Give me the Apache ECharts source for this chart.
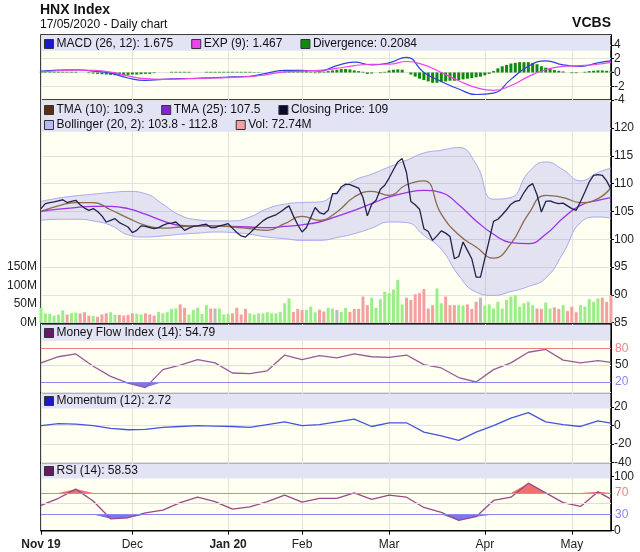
<!DOCTYPE html>
<html><head><meta charset="utf-8">
<script src="https://cdn.jsdelivr.net/npm/echarts@6/dist/echarts.min.js"></script>
<style>html,body{margin:0;padding:0;background:#fff}#c{width:640px;height:552px}</style>
</head><body><div id="c"></div>
<script>
// ---- categories: trading days Nov 2019 - 15 May 2020 ----
const holidays = ['2020-01-01','2020-01-23','2020-01-24','2020-01-27','2020-01-28','2020-01-29','2020-04-02','2020-04-30','2020-05-01'];
const dates = [];
for (let d = new Date(Date.UTC(2019,10,1)); d <= new Date(Date.UTC(2020,4,15)); d.setUTCDate(d.getUTCDate()+1)) {
  const w = d.getUTCDay(); const s = d.toISOString().slice(0,10);
  if (w !== 0 && w !== 6 && holidays.indexOf(s) < 0) dates.push(s);
}
const monthLabels = {'2019-11':'{b|Nov 19}','2019-12':'Dec','2020-01':'{b|Jan 20}','2020-02':'Feb','2020-03':'Mar','2020-04':'Apr','2020-05':'May'};

// ---- daily values ----
const closePrice = [105.5,106.4,106.6,106.7,106.9,107.1,106.6,106.8,107,106.2,105.6,105.2,105.5,105,104.2,103.1,103.4,103.7,103,102.6,
102.2,101.2,101.6,102.4,102.3,102.1,101.9,102.1,102.5,102.8,102.9,103.1,102.4,101.6,102,102.3,102.4,102.6,102.7,102.1,
102.1,102.4,102.6,102.8,102,101.2,100.6,100.4,101.1,101.9,102.6,103.3,103.8,104.1,104.4,104.9,105.5,106,104.2,102.6,
101.3,102.1,103.9,105.7,104.8,104.5,105.2,108.2,108.2,109.4,109.9,109.8,109.5,109.2,107.5,104.2,106.3,107,109,109.7,
111,112.5,113.9,114.5,112,106.8,106.2,105.4,101.9,101.4,99.8,100.6,101.5,101.1,100.5,96.5,96.9,99.5,98,96.5,
93.2,93.2,96.5,99.8,103.2,103.6,104.4,105.3,106.3,106.8,107,108.4,109.5,110,108,104.9,106.8,106.9,106.6,106.4,
106.5,106,105.5,105.2,106.8,108.5,110.3,111.5,111.6,111.5,110.5,109];
const volume = [40,25,24,19,22,33,22,25,27,25,28,19,18,16,22,25,28,21,21,19,21,25,24,22,25,22,19,29,25,28,
37,38,49,40,22,34,40,23,47,38,38,38,22,24,25,40,22,37,25,22,25,25,28,25,25,29,52,65,29,37,34,34,43,28,35,30,
40,38,34,29,40,29,37,37,70,47,67,40,63,83,79,89,115,49,67,61,76,79,90,38,47,92,52,70,47,47,
47,46,49,37,56,67,46,49,38,56,38,61,70,74,43,52,56,47,38,37,54,38,41,37,47,31,43,28,47,43,63,56,65,67,56,73];
const divergence = [0.1,0.1,0.1,0.1,0.1,0.1,0.1,0.1,0.1,0,0,-0.1,-0.15,-0.2,-0.25,-0.3,-0.35,-0.4,-0.4,-0.4,
-0.35,-0.3,-0.3,-0.25,-0.2,-0.2,-0.1,0,0,0,0.1,0.1,0.1,0.1,0.1,0,0,0,0.1,0.1,
0.1,0.1,0.1,0.1,0.1,0.1,0.1,0.1,0.1,0.05,0.05,0,0,0,0,0.1,0.15,0.2,0.3,0.35,
0.3,0.2,0.1,-0.1,-0.1,0.1,0.2,0.3,0.4,0.5,0.5,0.45,0.3,0.2,0.1,-0.2,-0.15,0,-0.1,0.1,
0.3,0.4,0.45,0.4,0,-0.3,-0.6,-0.9,-1.1,-1.3,-1.5,-1.5,-1.4,-1.3,-1.2,-1.2,-1.1,-1.0,-0.9,-0.8,
-0.7,-0.6,-0.4,-0.2,0.2,0.6,0.9,1.1,1.3,1.4,1.5,1.5,1.5,1.4,1.2,0.9,0.7,0.5,0.35,0.25,
0.15,0,-0.1,-0.1,0,0.1,0.2,0.25,0.3,0.3,0.25,0.21];

// ---- indicator lines read at sample days ----
const sIdx = [0,4,8,12,16,20,24,28,32,36,40,44,48,52,56,60,64,68,72,76,80,84,88,92,96,100,104,108,112,116,120,124,128,131];
const tma10 = [105,106,106.6,106.6,105.3,103.8,102.5,102,102.2,102.4,102.4,102.2,101.9,101.6,102.8,104.1,103.4,104.9,107.6,108.6,107.9,109.8,110.5,104.5,100.8,98.6,96.6,99.2,104.5,107.9,107.5,106.6,107.3,109.3];
const tma25 = [105,105.4,105.7,105.9,105.9,105.5,104.5,103.3,102.5,102.4,102.4,102.3,102.2,102.1,102.3,102.6,103.1,104.1,105.2,106.4,107.6,108.4,108.8,108.4,106.2,103.3,100.9,99.4,99.2,100.9,103.8,106.1,107,107.5];
const bollUpper = [106.8,107.4,107.8,108.1,108.4,108.6,108.2,106.3,104.3,103.5,103.3,103.3,104,105.5,106.3,106.6,106.7,108.5,110.6,111.7,113,114.2,115.5,116,116.5,113.5,107.2,107.5,112,113.9,112.5,110.5,112,112.8];
const bollLower = [103.4,103.6,103.6,103.3,102.5,100.8,100.4,100.6,100.9,101.1,101.3,101.2,100.9,100.4,100.1,99.8,99.8,100.3,101,102,103.1,103,100.7,98.2,93.5,90.5,89.9,90.6,91.5,93,97.5,103,104,103.8];
const macd = [0.2,0.35,0.4,0.2,-0.1,-0.8,-1.15,-1.0,-0.9,-0.85,-0.75,-0.65,-0.55,-0.1,0.3,0.3,0.2,1.0,1.5,1.1,1.4,2.2,0,-1.3,-2.4,-3.2,-3.0,-1.0,0.9,1.7,1.1,0.9,1.4,1.675];
const macdExp = [0.1,0.25,0.35,0.3,0.05,-0.5,-0.9,-1.0,-0.95,-0.85,-0.8,-0.7,-0.6,-0.3,0.1,0.2,0.3,0.6,1.0,1.2,1.2,1.6,1.1,0,-1.2,-2.2,-2.6,-1.9,-0.6,0.4,0.9,1.0,1.2,1.467];
const mfi = [54,65,70,48,30,18,10,42,50,60,54,36,35,40,68,60,67,63,70,65,64,68,51,45,28,20,42,54,73,78,59,54,58,54.79];
const momentum = [0,2,1.5,0,-3,-4.5,-4,-2,-1,0,-0.5,-1,-2,1,4,0,1,4,7,-1,3,3,-7,-11,-16,-7,0,8,14,4,1,-1,5,2.72];
const rsi = [47,60,77,55,22,24,33,38,52,62,54,40,44,54,66,53,60,60,70,58,66,62,43,34,19,26,56,62,88,70,52,45,72,58.53];

const pairs = arr => sIdx.map((k, j) => [k, arr[j]]);
const mInt = (idx) => { const p = dates[idx-1]; return idx === 0 || (p && p.slice(0,7) !== dates[idx].slice(0,7)); };
const FONT = 'Liberation Sans, Arial, sans-serif';
const gridBase = {left: 41, right: 29, show: true, backgroundColor: '#fffff2', borderColor: '#000', borderWidth: 1.5, containLabel: false};
const grids = [
  Object.assign({top: 35, height: 65}, gridBase),
  Object.assign({top: 101, height: 221.7}, gridBase),
  Object.assign({top: 324, height: 68.7}, gridBase),
  Object.assign({top: 392.7, height: 70}, gridBase),
  Object.assign({top: 462.7, height: 68}, gridBase)
];
const xAxes = grids.map((g, i) => ({
  type: 'category', gridIndex: i, data: dates, boundaryGap: false,
  axisLine: {show: i === 4, lineStyle: {color: '#000'}},
  axisTick: {show: i === 4, interval: mInt, length: 4, lineStyle: {color: '#000'}},
  axisLabel: {show: i === 4, interval: mInt, color: '#222', fontSize: 12, fontFamily: FONT, margin: 8,
    formatter: v => monthLabels[v.slice(0,7)] || '', rich: {b: {fontWeight: 'bold', fontSize: 12, fontFamily: FONT, color: '#222'}}},
  splitLine: {show: true, interval: mInt, lineStyle: {color: '#e2e2e2'}}
}));
const yCommon = {position: 'right', axisLine: {show: true, lineStyle: {color: '#000'}}, axisTick: {show: true, length: 3, lineStyle: {color: '#000'}},
  axisLabel: {color: '#222', fontSize: 12, fontFamily: FONT, margin: 3, showMaxLabel: false}, splitLine: {lineStyle: {color: '#e2e2e2'}}};
const yAxes = [
  Object.assign({}, yCommon, {gridIndex: 0, min: -4, max: 5.45, interval: 2}),
  Object.assign({}, yCommon, {gridIndex: 1, min: 85, max: 124.85, interval: 5}),
  {gridIndex: 1, position: 'left', min: 0, max: 594, interval: 50, axisLine: {show: false}, axisTick: {show: false}, splitLine: {show: false},
    axisLabel: {color: '#222', fontSize: 12, fontFamily: FONT, margin: 4, formatter: v => v <= 150 ? v + 'M' : ''}},
  Object.assign({}, yCommon, {gridIndex: 2, min: 0.95, max: 123.3, axisLabel: {show: false}, axisTick: {show: false}, splitLine: {show: false}}),
  Object.assign({}, yCommon, {gridIndex: 3, min: -40, max: 35.4, interval: 20}),
  Object.assign({}, yCommon, {gridIndex: 4, min: 0, max: 125.9, interval: 100, splitLine: {show: false}})
];
const hl = (v, color, label) => ({yAxis: v, lineStyle: {color: color, type: 'solid', width: 1},
  label: {show: !!label, position: 'end', formatter: label || '', color: color === '#dddddd' ? '#222' : color, fontSize: 12, fontFamily: FONT, distance: 4}});
const mlBase = {silent: true, symbol: 'none', animation: false};

const series = [
  {name: 'Divergence: 0.2084', type: 'bar', xAxisIndex: 0, yAxisIndex: 0, data: divergence, barWidth: 3, itemStyle: {color: '#118811'}},
  {name: 'MACD (26, 12): 1.675', type: 'line', xAxisIndex: 0, yAxisIndex: 0, data: pairs(macd), smooth: true, symbol: 'none', lineStyle: {color: '#3040e0', width: 1.2}, itemStyle: {color: '#1a1acc'}},
  {name: 'EXP (9): 1.467', type: 'line', xAxisIndex: 0, yAxisIndex: 0, data: pairs(macdExp), smooth: true, symbol: 'none', lineStyle: {color: '#ee44ee', width: 1.2}, itemStyle: {color: '#ee44ee'}},
  {name: 'Vol: 72.74M', type: 'bar', xAxisIndex: 1, yAxisIndex: 2, data: volume, barWidth: 3, z: 3,
    itemStyle: {color: p => { const i = p.dataIndex; if (i === 0) return '#99ee88'; const d = closePrice[i] - closePrice[i-1]; return d > 0 ? '#99ee88' : d < 0 ? '#f4a0a0' : '#bbbbbb'; }}},
  {name: 'bbLow', type: 'line', xAxisIndex: 1, yAxisIndex: 1, data: pairs(bollLower), stack: 'bb', smooth: true, symbol: 'none', lineStyle: {color: '#a8a8f0', width: 1}, z: 1},
  {name: 'Bollinger (20, 2): 103.8 - 112.8', type: 'line', xAxisIndex: 1, yAxisIndex: 1, data: sIdx.map((k, j) => [k, +(bollUpper[j] - bollLower[j]).toFixed(2)]), stack: 'bb', smooth: true, symbol: 'none',
    lineStyle: {color: '#a8a8f0', width: 1}, areaStyle: {color: 'rgba(120,120,235,0.30)'}, itemStyle: {color: '#b8b8f4'}, z: 1},
  {name: 'TMA (25): 107.5', type: 'line', xAxisIndex: 1, yAxisIndex: 1, data: pairs(tma25), smooth: true, symbol: 'none', lineStyle: {color: '#a030e8', width: 1.3}, itemStyle: {color: '#8a20d8'}, z: 4},
  {name: 'TMA (10): 109.3', type: 'line', xAxisIndex: 1, yAxisIndex: 1, data: pairs(tma10), smooth: true, symbol: 'none', lineStyle: {color: '#8b6a4e', width: 1.3}, itemStyle: {color: '#5a3010'}, z: 4},
  {name: 'Closing Price: 109', type: 'line', xAxisIndex: 1, yAxisIndex: 1, data: closePrice, symbol: 'none', lineStyle: {color: '#22224a', width: 1.3}, itemStyle: {color: '#0a0a30'}, z: 5},
  {name: 'mfiLow', type: 'line', xAxisIndex: 2, yAxisIndex: 3, data: pairs(mfi.map(v => Math.min(v, 20))), symbol: 'none', lineStyle: {width: 0}, areaStyle: {origin: 20, color: '#6a6ae8', opacity: 0.9}},
  {name: 'Money Flow Index (14): 54.79', type: 'line', xAxisIndex: 2, yAxisIndex: 3, data: pairs(mfi), symbol: 'none', lineStyle: {color: '#9a5a9a', width: 1.3}, itemStyle: {color: '#661a66'},
    markLine: Object.assign({}, mlBase, {data: [hl(80, '#f08080', '80'), hl(50, '#dddddd', '50'), hl(20, '#8888f0', '20')]})},
  {name: 'Momentum (12): 2.72', type: 'line', xAxisIndex: 3, yAxisIndex: 4, data: pairs(momentum), symbol: 'none', lineStyle: {color: '#4455dd', width: 1.3}, itemStyle: {color: '#1a1acc'}},
  {name: 'rsiHigh', type: 'line', xAxisIndex: 4, yAxisIndex: 5, data: pairs(rsi.map(v => Math.max(v, 70))), symbol: 'none', lineStyle: {width: 0}, areaStyle: {origin: 70, color: '#f06060', opacity: 0.9}},
  {name: 'rsiLow', type: 'line', xAxisIndex: 4, yAxisIndex: 5, data: pairs(rsi.map(v => Math.min(v, 30))), symbol: 'none', lineStyle: {width: 0}, areaStyle: {origin: 30, color: '#6a6ae8', opacity: 0.9}},
  {name: 'RSI (14): 58.53', type: 'line', xAxisIndex: 4, yAxisIndex: 5, data: pairs(rsi), symbol: 'none', lineStyle: {color: '#9a4a8a', width: 1.3}, itemStyle: {color: '#661a66'},
    markLine: Object.assign({}, mlBase, {data: [hl(70, '#f08080', '70'), hl(50, '#dddddd', ''), hl(30, '#8888f0', '30')]})}
];
const lg = (top, names) => ({top: top, left: 44, itemWidth: 9, itemHeight: 9, itemGap: 18, icon: 'rect', selectedMode: false,
  itemStyle: {borderColor: '#333', borderWidth: 1}, textStyle: {fontSize: 12, fontFamily: FONT, color: '#111', padding: [0, 0, 0, -2]}, data: names, padding: 0});
const bands = [[35, 15], [101, 30], [324, 16], [392.7, 15], [462.7, 15]].map(b => ({type: 'rect', z: 1,
  shape: {x: 41.8, y: b[0] + 0.8, width: 568.4, height: b[1]}, style: {fill: '#e3e3f6'}}));

const chart = echarts.init(document.getElementById('c'));
chart.setOption({
  animation: false, backgroundColor: '#fff',
  grid: grids, xAxis: xAxes, yAxis: yAxes, series: series,
  legend: [
    lg(38, ['MACD (26, 12): 1.675', 'EXP (9): 1.467', 'Divergence: 0.2084']),
    lg(104, ['TMA (10): 109.3', 'TMA (25): 107.5', 'Closing Price: 109']),
    lg(119, ['Bollinger (20, 2): 103.8 - 112.8', {name: 'Vol: 72.74M', itemStyle: {color: '#f4a0a0', borderColor: '#333', borderWidth: 1}}]),
    lg(327, ['Money Flow Index (14): 54.79']),
    lg(395, ['Momentum (12): 2.72']),
    lg(465, ['RSI (14): 58.53'])
  ],
  graphic: bands.concat([
    {type: 'text', left: 40, top: 3, style: {text: 'HNX Index', font: 'bold 14px ' + FONT, fill: '#111'}},
    {type: 'text', left: 40, top: 19, style: {text: '17/05/2020 - Daily chart', font: '12px ' + FONT, fill: '#111'}},
    {type: 'text', right: 29, top: 16, style: {text: 'VCBS', font: 'bold 14px ' + FONT, fill: '#111'}}
  ])
});
</script></body></html>
